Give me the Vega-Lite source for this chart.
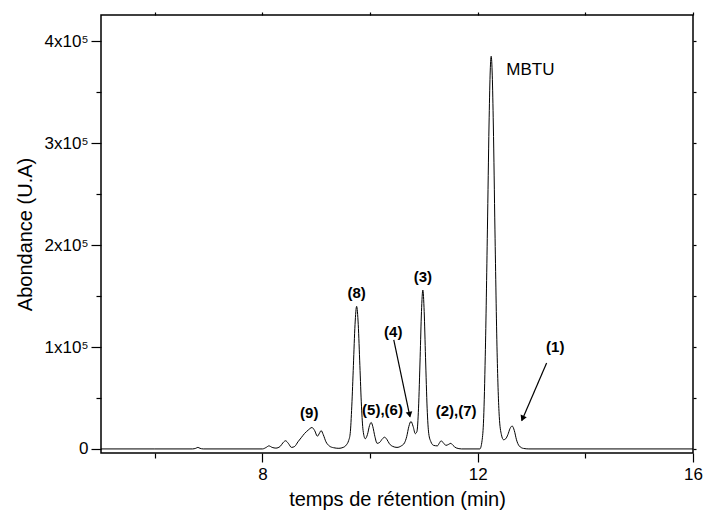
{
  "$schema": "https://vega.github.io/schema/vega-lite/v6.json",
  "width": 592,
  "height": 438,
  "autosize": {"type": "none"},
  "padding": {"left": 101, "top": 15, "right": 10, "bottom": 69},
  "background": "white",
  "config": {
    "view": {"stroke": "black", "strokeWidth": 1.5},
    "font": "Liberation Sans",
    "axis": {"domain": false, "grid": false, "tickColor": "black", "tickWidth": 1.2, "labelColor": "black", "titleColor": "black", "labelFont": "Liberation Sans", "titleFont": "Liberation Sans", "titleFontWeight": "normal", "labelOverlap": false, "labelFlush": false}
  },
  "datasets": {
    "trace": [
      {"t": 5.0, "a": 0}, {"t": 6.0, "a": 0}, {"t": 6.7, "a": 0}, {"t": 6.76, "a": 600}, {"t": 6.8, "a": 1500}, {"t": 6.84, "a": 600}, {"t": 6.9, "a": 0},
      {"t": 8.0, "a": 0}, {"t": 8.07, "a": 1500}, {"t": 8.12, "a": 3000}, {"t": 8.18, "a": 1500}, {"t": 8.25, "a": 800}, {"t": 8.33, "a": 2500}, {"t": 8.38, "a": 6000}, {"t": 8.43, "a": 8000}, {"t": 8.48, "a": 5500}, {"t": 8.54, "a": 1500},
      {"t": 8.6, "a": 2500}, {"t": 8.66, "a": 7000}, {"t": 8.72, "a": 11000}, {"t": 8.78, "a": 15000}, {"t": 8.85, "a": 18500}, {"t": 8.92, "a": 21000}, {"t": 8.97, "a": 18000}, {"t": 9.02, "a": 12500}, {"t": 9.06, "a": 15500}, {"t": 9.09, "a": 18000}, {"t": 9.13, "a": 14000}, {"t": 9.18, "a": 7000}, {"t": 9.24, "a": 3000}, {"t": 9.32, "a": 1200}, {"t": 9.42, "a": 600},
      {"t": 9.5, "a": 1500}, {"t": 9.56, "a": 4000}, {"t": 9.6, "a": 8000}, {"t": 9.63, "a": 15000}, {"t": 9.66, "a": 42000}, {"t": 9.69, "a": 82000}, {"t": 9.72, "a": 122000}, {"t": 9.75, "a": 140000}, {"t": 9.78, "a": 122000}, {"t": 9.81, "a": 82000}, {"t": 9.84, "a": 42000}, {"t": 9.87, "a": 18000},
      {"t": 9.91, "a": 10000}, {"t": 9.95, "a": 14000}, {"t": 9.99, "a": 23000}, {"t": 10.02, "a": 26000}, {"t": 10.05, "a": 22000}, {"t": 10.09, "a": 12000}, {"t": 10.13, "a": 5500}, {"t": 10.18, "a": 6500}, {"t": 10.23, "a": 10000}, {"t": 10.27, "a": 11500}, {"t": 10.31, "a": 9500}, {"t": 10.36, "a": 5000}, {"t": 10.42, "a": 2500}, {"t": 10.5, "a": 1500},
      {"t": 10.58, "a": 3000}, {"t": 10.64, "a": 6000}, {"t": 10.68, "a": 12000}, {"t": 10.72, "a": 22000}, {"t": 10.76, "a": 27000}, {"t": 10.8, "a": 22000}, {"t": 10.84, "a": 15000}, {"t": 10.87, "a": 17000},
      {"t": 10.9, "a": 40000}, {"t": 10.93, "a": 90000}, {"t": 10.955, "a": 135000}, {"t": 10.98, "a": 156000}, {"t": 11.005, "a": 135000}, {"t": 11.03, "a": 90000}, {"t": 11.06, "a": 40000}, {"t": 11.09, "a": 15000}, {"t": 11.13, "a": 7000},
      {"t": 11.18, "a": 3500}, {"t": 11.25, "a": 3000}, {"t": 11.29, "a": 6000}, {"t": 11.32, "a": 8000}, {"t": 11.36, "a": 6000}, {"t": 11.41, "a": 3500}, {"t": 11.46, "a": 4500}, {"t": 11.5, "a": 5500}, {"t": 11.54, "a": 3500}, {"t": 11.6, "a": 1000}, {"t": 11.7, "a": 0},
      {"t": 12.04, "a": 0}, {"t": 12.08, "a": 8000}, {"t": 12.11, "a": 30000}, {"t": 12.14, "a": 91000}, {"t": 12.18, "a": 215000}, {"t": 12.21, "a": 318000}, {"t": 12.23, "a": 367000}, {"t": 12.25, "a": 385500}, {"t": 12.27, "a": 367000}, {"t": 12.29, "a": 318000}, {"t": 12.32, "a": 215000}, {"t": 12.36, "a": 95000}, {"t": 12.4, "a": 32000}, {"t": 12.44, "a": 14000},
      {"t": 12.48, "a": 9000}, {"t": 12.52, "a": 10000}, {"t": 12.56, "a": 14000}, {"t": 12.6, "a": 20000}, {"t": 12.64, "a": 22500}, {"t": 12.68, "a": 18000}, {"t": 12.72, "a": 9000}, {"t": 12.77, "a": 3000}, {"t": 12.85, "a": 500}, {"t": 12.95, "a": 0}, {"t": 16.0, "a": 0}
    ],
    "labels": [
      {"t": 9.75, "a": 153000, "text": "(8)", "kind": "bold"},
      {"t": 10.98, "a": 169000, "text": "(3)", "kind": "bold"},
      {"t": 10.43, "a": 115000, "text": "(4)", "kind": "bold"},
      {"t": 8.87, "a": 35700, "text": "(9)", "kind": "bold"},
      {"t": 10.23, "a": 38300, "text": "(5),(6)", "kind": "bold"},
      {"t": 11.6, "a": 37600, "text": "(2),(7)", "kind": "bold"},
      {"t": 13.44, "a": 100000, "text": "(1)", "kind": "bold"},
      {"t": 12.53, "a": 372000, "text": "MBTU", "kind": "plain"}
    ],
    "arrows": [
      {"id": "a4", "t": 10.44, "a": 107000, "t2": 10.74, "a2": 31700, "ht": 10.73, "ha": 34500},
      {"id": "a1", "t": 13.28, "a": 84300, "t2": 12.82, "a2": 27900, "ht": 12.84, "ha": 30700}
    ]
  },
  "resolve": {"axis": {"x": "independent", "y": "independent"}},
  "layer": [
    {
      "data": {"name": "trace"},
      "mark": {"type": "line", "color": "black", "strokeWidth": 1, "interpolate": "monotone"},
      "encoding": {
        "x": {"field": "t", "type": "quantitative", "scale": {"domain": [5, 16], "nice": false, "zero": false},
          "axis": {"orient": "bottom", "values": [6, 8, 10, 12, 14, 16], "labelExpr": "datum.value % 4 == 0 ? datum.label : ''",
            "tickSize": {"condition": {"test": "datum.value % 4 == 0", "value": 9}, "value": 5},
            "labelFontSize": 17, "labelPadding": 4, "title": "temps de rétention (min)", "titleFontSize": 20, "titlePadding": 7}},
        "y": {"field": "a", "type": "quantitative", "scale": {"domain": [-4000, 426000], "nice": false, "zero": false},
          "axis": {"orient": "left", "values": [0, 50000, 100000, 150000, 200000, 250000, 300000, 350000, 400000],
            "labelExpr": "datum.value % 100000 == 0 ? (datum.value == 0 ? '0' : (datum.value / 100000) + 'x10⁵') : ''",
            "tickSize": {"condition": {"test": "datum.value % 100000 == 0", "value": 10}, "value": 5},
            "labelFontSize": 17, "labelPadding": 3, "title": "Abondance (U.A)", "titleFontSize": 20, "titlePadding": 9}}
      }
    },
    {
      "data": {"name": "trace"},
      "mark": {"type": "point", "opacity": 0, "size": 0},
      "encoding": {
        "x": {"field": "t", "type": "quantitative", "scale": {"domain": [5, 16], "nice": false, "zero": false},
          "axis": {"orient": "top", "values": [6, 8, 10, 12, 14, 16], "labels": false, "title": null, "tickSize": 3}},
        "y": {"field": "a", "type": "quantitative", "scale": {"domain": [-4000, 426000], "nice": false, "zero": false},
          "axis": {"orient": "right", "values": [0, 50000, 100000, 150000, 200000, 250000, 300000, 350000, 400000], "labels": false, "title": null, "tickSize": 3}}
      }
    },
    {
      "data": {"name": "labels"},
      "transform": [{"filter": "datum.kind == 'bold'"}],
      "mark": {"type": "text", "fontWeight": "bold", "fontSize": 15, "align": "center", "baseline": "middle", "color": "black"},
      "encoding": {
        "x": {"field": "t", "type": "quantitative", "axis": null},
        "y": {"field": "a", "type": "quantitative", "axis": null},
        "text": {"field": "text"}
      }
    },
    {
      "data": {"name": "labels"},
      "transform": [{"filter": "datum.kind == 'plain'"}],
      "mark": {"type": "text", "fontSize": 17, "align": "left", "baseline": "middle", "color": "black"},
      "encoding": {
        "x": {"field": "t", "type": "quantitative", "axis": null},
        "y": {"field": "a", "type": "quantitative", "axis": null},
        "text": {"field": "text"}
      }
    },
    {
      "data": {"name": "arrows"},
      "mark": {"type": "rule", "color": "black", "strokeWidth": 1.2},
      "encoding": {
        "x": {"field": "t", "type": "quantitative", "axis": null},
        "y": {"field": "a", "type": "quantitative", "axis": null},
        "x2": {"field": "t2"},
        "y2": {"field": "a2"}
      }
    },
    {
      "data": {"name": "arrows"},
      "transform": [{"filter": "datum.id == 'a4'"}],
      "mark": {"type": "point", "shape": "triangle", "filled": true, "color": "black", "size": 45, "angle": 168, "opacity": 1},
      "encoding": {
        "x": {"field": "ht", "type": "quantitative", "axis": null},
        "y": {"field": "ha", "type": "quantitative", "axis": null}
      }
    },
    {
      "data": {"name": "arrows"},
      "transform": [{"filter": "datum.id == 'a1'"}],
      "mark": {"type": "point", "shape": "triangle", "filled": true, "color": "black", "size": 45, "angle": 203, "opacity": 1},
      "encoding": {
        "x": {"field": "ht", "type": "quantitative", "axis": null},
        "y": {"field": "ha", "type": "quantitative", "axis": null}
      }
    }
  ]
}
